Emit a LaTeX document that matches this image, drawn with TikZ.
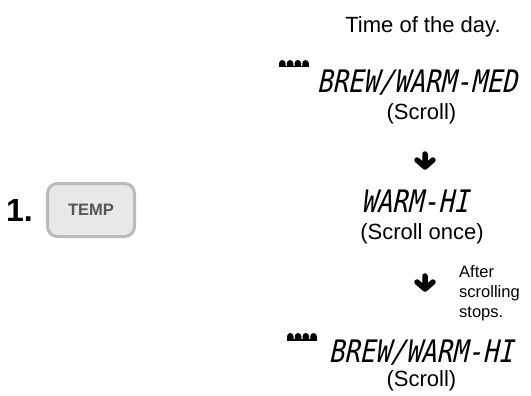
\documentclass[tikz,border=0pt]{standalone}
\usepackage{fontspec}
\setmainfont{Liberation Sans}
\newfontfamily\lcdfont{DejaVu Sans Mono}[FakeSlant=0.22,FakeStretch=0.825]
\definecolor{btnfill}{HTML}{E8E8E8}
\definecolor{btnedge}{HTML}{BABABA}
\definecolor{btntext}{HTML}{555555}
\tikzset{
  txt/.style={font=\fontsize{22}{22}\selectfont, anchor=base, inner sep=0pt},
  small/.style={font=\fontsize{16.5}{16.5}\selectfont, anchor=base west, inner sep=0pt},
  lcd/.style={font=\fontsize{31}{31}\lcdfont, anchor=base, inner sep=0pt},
  keybtn/.style={draw=btnedge, line width=3pt, fill=btnfill, rounded corners=10pt,
    minimum width=87pt, minimum height=53pt, inner sep=0pt,
    text=btntext, font=\fontsize{16.5}{16.5}\selectfont\bfseries},
  downarr/.pic={\draw[line width=5.5pt, line cap=round, line join=round]
      (0,-7) -- (0,5) (-8,-1) -- (0,6) -- (8,-1);},
  cups/.pic={\fill (0,6) rectangle (30,7.5);
    \foreach \k in {0,1,2,3}{\fill (7.75*\k,6.2) -- (7.75*\k,3.5)
      arc[start angle=180,end angle=360,x radius=3.3,y radius=3.5] -- (7.75*\k+6.6,6.2) -- cycle;}}
}
\begin{document}
\begin{tikzpicture}[x=1pt,y=-1pt]
\path[use as bounding box] (0,0) rectangle (531,396);
% left side
\node[font=\fontsize{32}{32}\selectfont\bfseries, anchor=base west, inner sep=0pt] (step1) at (6,222) {1.};
\node[keybtn] (temp) at (91,210) {TEMP};
% right column
\node[txt] (time) at (423,33) {Time of the day.};
\pic at (279,60) {cups};
\node[lcd] (med) at (417,93) {BREW/WARM-MED};
\node[txt] (scroll1) at (421.5,120) {(Scroll)};
\pic at (425,161) {downarr};
\node[lcd] (hi) at (415,212) {WARM-HI};
\node[txt] (scroll2) at (422,240) {(Scroll once)};
\pic at (425,283) {downarr};
\node[small] (after1) at (459,277) {After};
\node[small] (after2) at (459,297) {scrolling};
\node[small] (after3) at (459,317) {stops.};
\pic at (287,333) {cups};
\node[lcd] (bwhi) at (421,362) {BREW/WARM-HI};
\node[txt] (scroll3) at (421.5,386) {(Scroll)};
\end{tikzpicture}
\end{document}
